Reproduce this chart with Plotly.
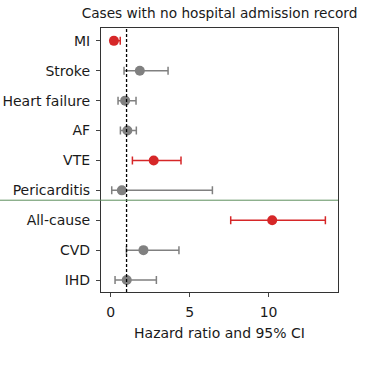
import plotly.graph_objects as go

outcomes = ["MI", "Stroke", "Heart failure", "AF", "VTE", "Pericarditis", "All-cause", "CVD", "IHD"]
hr = [0.2, 1.84, 0.91, 1.05, 2.72, 0.70, 10.23, 2.07, 1.01]
ci_low = [0.05, 0.84, 0.46, 0.61, 1.37, 0.06, 7.6, 0.99, 0.27]
ci_high = [0.6, 3.63, 1.6, 1.62, 4.45, 6.44, 13.6, 4.32, 2.89]
significant = [True, False, False, False, True, False, True, False, False]

RED = "#d62728"
GREY = "#808080"

fig = go.Figure()
for sig, col in [(False, GREY), (True, RED)]:
    idx = [i for i, s in enumerate(significant) if s == sig]
    fig.add_trace(go.Scatter(
        x=[hr[i] for i in idx],
        y=[outcomes[i] for i in idx],
        mode="markers",
        marker=dict(color=col, size=10),
        error_x=dict(type="data", symmetric=False,
                     array=[ci_high[i] - hr[i] for i in idx],
                     arrayminus=[hr[i] - ci_low[i] for i in idx],
                     color=col, thickness=1.5, width=4),
        showlegend=False,
    ))

fig.add_shape(type="line", xref="x", yref="paper", x0=1, x1=1, y0=0, y1=1,
              line=dict(color="black", width=1.3, dash="3px,2px"))
fig.add_shape(type="line", xref="paper", yref="y", x0=-0.43, x1=1, y0=5.33, y1=5.33,
              line=dict(color="#5e8f5e", width=1))

fig.update_layout(
    width=380, height=372,
    margin=dict(l=101, r=42, t=28, b=80, autoexpand=False),
    paper_bgcolor="white", plot_bgcolor="white",
    font=dict(family="DejaVu Sans", size=14, color="#1a1a1a"),
    title=dict(text="Cases with no hospital admission record", xref="paper", x=0.5,
               xanchor="center", y=1 - 13 / 372, yref="container", yanchor="middle",
               font=dict(size=13.7, color="#1a1a1a")),
)
fig.update_xaxes(range=[-0.62, 14.4], tickvals=[0, 5, 10], ticks="outside", ticklen=4,
                 showline=True, linecolor="#333", linewidth=1.2, mirror=True,
                 showgrid=False, zeroline=False, tickfont=dict(size=14), automargin=False,
                 ticklabelstandoff=3,
                 title=dict(text="Hazard ratio and 95% CI", standoff=9, font=dict(size=14)))
fig.update_yaxes(categoryorder="array", categoryarray=outcomes, range=[8.4, -0.43],
                 ticks="outside", ticklen=4, showline=True, linecolor="#333", linewidth=1.2,
                 mirror=True, showgrid=False, zeroline=False, tickfont=dict(size=14),
                 ticklabelstandoff=3, automargin=False)

fig.write_html("out.html", config={"displayModeBar": False},
               post_script="document.body.style.margin='0';")
